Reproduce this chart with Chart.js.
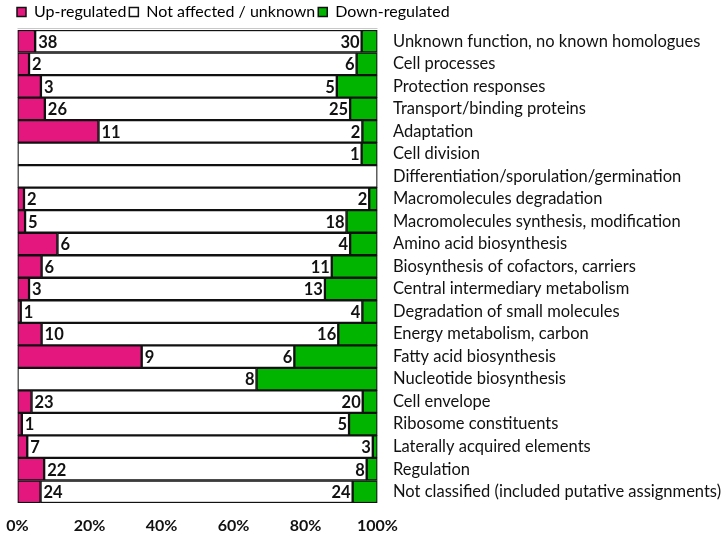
<!DOCTYPE html>
<html>
<head>
<meta charset="utf-8">
<script src="https://cdn.jsdelivr.net/npm/chart.js@4.4.0/dist/chart.umd.min.js"></script>
<style>
html,body{margin:0;padding:0;background:#fff;}
#wrap{width:727px;height:537px;position:relative;}
</style>
</head>
<body>
<div id="wrap"><canvas id="c"></canvas></div>
<script>
const categories = [
  "Unknown function, no known homologues",
  "Cell processes",
  "Protection responses",
  "Transport/binding proteins",
  "Adaptation",
  "Cell division",
  "Differentiation/sporulation/germination",
  "Macromolecules degradation",
  "Macromolecules synthesis, modification",
  "Amino acid biosynthesis",
  "Biosynthesis of cofactors, carriers",
  "Central intermediary metabolism",
  "Degradation of small molecules",
  "Energy metabolism, carbon",
  "Fatty acid biosynthesis",
  "Nucleotide biosynthesis",
  "Cell envelope",
  "Ribosome constituents",
  "Laterally acquired elements",
  "Regulation",
  "Not classified (included putative assignments)"
];
// percentages
const upPct      = [4.9, 3.2, 6.5, 7.6, 22.5, 0, 0, 1.8, 2.1, 11.1, 6.7, 3.2, 0.9, 6.7, 34.5, 0, 3.9, 1.2, 2.7, 7.4, 6.4];
const neutralPct = [90.7, 91.0, 82.2, 84.8, 73.3, 95.6, 100, 95.9, 89.3, 81.3, 80.6, 82.2, 94.9, 82.4, 42.4, 66.4, 92.0, 90.9, 96.0, 89.6, 86.7];
const downPct    = [4.4, 5.8, 11.3, 7.6, 4.2, 4.4, 0, 2.3, 8.6, 7.6, 12.7, 14.6, 4.2, 10.9, 23.1, 33.6, 4.1, 7.9, 1.3, 3.0, 6.9];
// counts printed on the bars
const upCounts   = ["38","2","3","26","11","","","2","5","6","6","3","1","10","9","","23","1","7","22","24"];
const downCounts = ["30","6","5","25","2","1","","2","18","4","11","13","4","16","6","8","20","5","3","8","24"];
const xTicks = [0, 20, 40, 60, 80, 100];

const FONT = "Lato";
const MAGENTA = "#E4177F";
const GREEN = "#00B400";

const countLabels = {
  id: "countLabels",
  afterDatasetsDraw(chart) {
    const ctx = chart.ctx;
    const meta = chart.getDatasetMeta(1);
    ctx.save();
    ctx.font = "bold 16.5px " + FONT;
    ctx.fillStyle = "#111";
    ctx.textBaseline = "middle";
    meta.data.forEach((bar, i) => {
      const left = Math.min(bar.x, bar.base);
      const right = Math.max(bar.x, bar.base);
      if (upCounts[i]) {
        ctx.textAlign = "left";
        ctx.fillText(upCounts[i], left + 3, bar.y + 1);
      }
      if (downCounts[i]) {
        ctx.textAlign = "right";
        ctx.fillText(downCounts[i], right - 2, bar.y + 1);
      }
    });
    ctx.restore();
  }
};
const topLine = {
  id: "topLine",
  beforeDatasetsDraw(chart) {
    const a = chart.chartArea, ctx = chart.ctx;
    ctx.save();
    ctx.strokeStyle = "#c8c8c8";
    ctx.lineWidth = 1;
    ctx.beginPath();
    ctx.moveTo(a.left, a.top - 1.5);
    ctx.lineTo(a.right, a.top - 1.5);
    ctx.stroke();
    ctx.restore();
  }
};

const ds = (label, data, color) => ({
  label, data,
  backgroundColor: color,
  borderColor: "#111",
  borderWidth: 1.5,
  borderSkipped: false,
  categoryPercentage: 1.0,
  barPercentage: 1.0
});

new Chart(document.getElementById("c"), {
  type: "bar",
  data: {
    labels: categories,
    datasets: [
      ds("Up-regulated", upPct, MAGENTA),
      ds("Not affected / unknown", neutralPct, "#ffffff"),
      ds("Down-regulated", downPct, GREEN)
    ]
  },
  options: {
    indexAxis: "y",
    responsive: true,
    maintainAspectRatio: false,
    animation: false,
    layout: { padding: { left: 14, right: 0, top: 1, bottom: 0 } },
    plugins: {
      legend: {
        position: "top",
        align: "start",
        labels: {
          boxWidth: 9, boxHeight: 9, padding: 3,
          color: "#111",
          font: { family: FONT, size: 16 },
          generateLabels(chart) {
            return chart.data.datasets.map((d, i) => ({
              text: d.label, fillStyle: d.backgroundColor, strokeStyle: "#111",
              lineWidth: 1.5, datasetIndex: i, hidden: false
            }));
          }
        }
      },
      tooltip: { enabled: false }
    },
    scales: {
      x: {
        stacked: true, min: 0, max: 100,
        afterBuildTicks(s) { s.ticks = xTicks.map(v => ({ value: v })); },
        afterFit(s) { s.height = 34; s.paddingLeft = 17.5; s.paddingRight = 0; },
        grid: { display: false, drawTicks: false },
        border: { display: false },
        ticks: {
          color: "#111", padding: 13,
          font: { family: FONT, size: 16, weight: "bold" },
          callback: v => v + "%",
          maxRotation: 0
        }
      },
      y: {
        stacked: true, position: "right",
        afterFit(s) { s.width = 349.5; },
        grid: { display: false, drawTicks: false },
        border: { display: false },
        ticks: {
          color: "#111", padding: 15.5,
          font: { family: FONT, size: 16.5 },
          autoSkip: false
        }
      }
    }
  },
  plugins: [countLabels, topLine]
});
</script>
</body>
</html>
